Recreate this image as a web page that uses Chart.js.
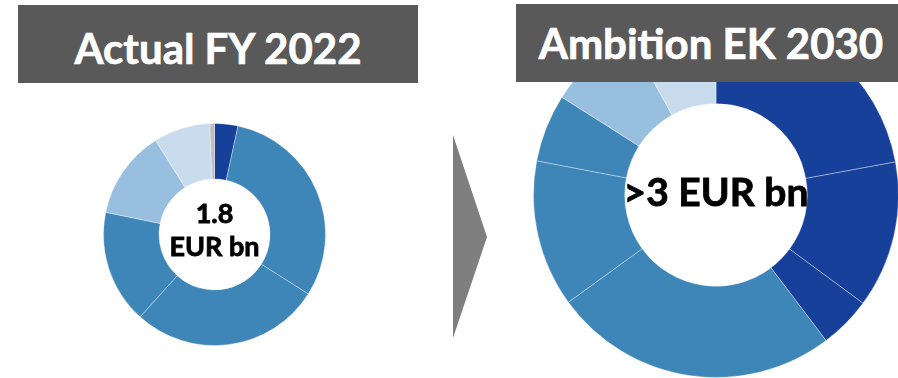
<!DOCTYPE html>
<html>
<head>
<meta charset="utf-8">
<script src="https://cdn.jsdelivr.net/npm/chart.js@4/dist/chart.umd.min.js"></script>
<style>
  html, body { margin: 0; padding: 0; background: #fff; overflow: hidden; }
  body { width: 898px; height: 378px; position: relative; font-family: Lato, "Open Sans", sans-serif; }
  .box { position: absolute; background: #595959; color: #fff; font-weight: bold; text-align: center; white-space: nowrap; -webkit-text-stroke: 0.7px #fff; }
  #box1 { left: 18px; top: 5px; width: 400px; height: 78px; font-size: 42px; line-height: 86px; }
  #box2 { left: 516px; top: 4px; width: 390px; height: 78px; font-size: 42px; line-height: 78px; }
  canvas { position: absolute; }
  #chart1 { left: 103px; top: 123px; }
  #chart2 { left: 533px; top: 12px; }
  #arrow { position: absolute; left: 0; top: 0; }
</style>
</head>
<body>

<canvas id="chart1" width="223" height="223"></canvas>
<canvas id="chart2" width="366" height="366"></canvas>
<svg id="arrow" width="898" height="378"><polygon points="453,135 487,237 453,338" fill="#7f7f7f"/></svg>
<div class="box" id="box1">Actual FY 2022</div>
<div class="box" id="box2">Ambition EK 2030</div>

<script>
// share of total revenue per segment, clockwise from 12 o'clock (%)
var segments2022 = ["Segment 1", "Segment 2", "Segment 3", "Segment 4", "Segment 5", "Segment 6", "Segment 7"];
var shares2022 = [3.4, 30.6, 27.7, 16.5, 12.9, 8.2, 0.7];
var colors2022 = ["#17409a", "#3e85b8", "#3e85b8", "#3e85b8", "#99bfe0", "#c8dcee", "#bfbfbf"];

var segments2030 = ["Segment 1", "Segment 2", "Segment 3", "Segment 4", "Segment 5", "Segment 6", "Segment 7", "Segment 8"];
var shares2030 = [22.1, 13.0, 4.6, 25.3, 13.0, 6.0, 8.0, 8.0];
var colors2030 = ["#17409a", "#17409a", "#17409a", "#3e85b8", "#3e85b8", "#3e85b8", "#99bfe0", "#c8dcee"];

// text written in the hole of the doughnut
var centerText = {
  id: "centerText",
  afterDraw: function(chart, args, opts) {
    var ctx = chart.ctx;
    var meta = chart.getDatasetMeta(0).data[0];
    ctx.save();
    ctx.fillStyle = "#000";
    ctx.strokeStyle = "#000";
    ctx.lineWidth = 0.8;
    ctx.font = "bold " + opts.size + "px Lato";
    ctx.textAlign = "center";
    ctx.textBaseline = "alphabetic";
    for (var i = 0; i < opts.lines.length; i++) {
      ctx.fillText(opts.lines[i], meta.x, meta.y + opts.offsets[i]);
      ctx.strokeText(opts.lines[i], meta.x, meta.y + opts.offsets[i]);
    }
    ctx.restore();
  }
};

function makeDoughnut(id, labels, values, colors, text) {
  return new Chart(id, {
    type: "doughnut",
    data: {
      labels: labels,
      datasets: [{
        data: values,
        backgroundColor: colors,
        borderColor: "rgba(255,255,255,0.35)",
        borderWidth: 1
      }]
    },
    options: {
      responsive: false,
      animation: false,
      cutout: "50%",
      layout: {padding: 0},
      plugins: {
        legend: {display: false},
        tooltip: {enabled: false},
        centerText: text
      }
    },
    plugins: [centerText]
  });
}

makeDoughnut("chart1", segments2022, shares2022, colors2022,
  {lines: ["1.8", "EUR bn"], size: 27, offsets: [-12, 21.5]});
makeDoughnut("chart2", segments2030, shares2030, colors2030,
  {lines: [">3 EUR bn"], size: 39, offsets: [11]});
</script>
</body>
</html>
